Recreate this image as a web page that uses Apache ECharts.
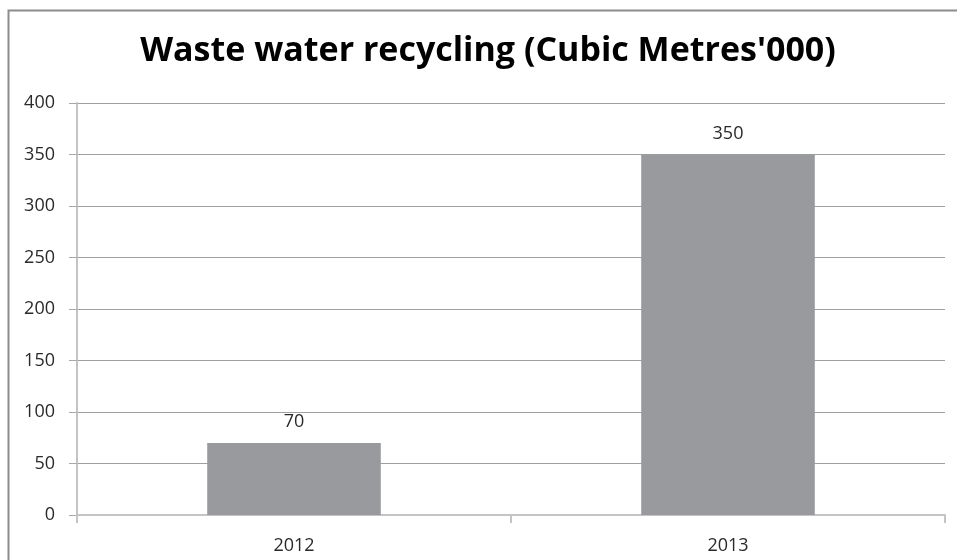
<!DOCTYPE html>
<html><head><meta charset="utf-8">
<script src="https://cdn.jsdelivr.net/npm/echarts@6/dist/echarts.min.js"></script>
<style>html,body{margin:0;padding:0;background:#fff}#c{width:957px;height:560px}</style>
</head><body><div id="c"></div>
<script>
const categories = ['2012', '2013'];
const values = [70, 350];
const titleText = "Waste water recycling (Cubic Metres'000)";
const yTicks = { min: 0, max: 400, interval: 50 };

const chart = echarts.init(document.getElementById('c'), null, { renderer: 'canvas' });
chart.setOption({
  animation: false,
  backgroundColor: '#ffffff',
  graphic: [{
    type: 'rect', shape: { x: 8.5, y: 10.5, width: 1000, height: 600 },
    style: { fill: 'none', stroke: '#8c8c8c', lineWidth: 2 }, z: 0
  }],
  title: {
    text: titleText, left: 483, top: 29, textAlign: 'center',
    textStyle: { fontFamily: 'Open Sans', fontWeight: 'bold', fontSize: 34, color: '#000' }
  },
  grid: { left: 77, right: 12, top: 103, bottom: 45, containLabel: false },
  xAxis: {
    type: 'category', data: categories,
    axisLine: { lineStyle: { color: '#c4c4c4', width: 2 } },
    axisTick: { show: true, length: 8, lineStyle: { color: '#c4c4c4', width: 2 } },
    axisLabel: { fontFamily: 'Open Sans', fontSize: 18, color: '#2a2a2a', margin: 22 }
  },
  yAxis: {
    type: 'value', min: yTicks.min, max: yTicks.max, interval: yTicks.interval,
    axisLine: { show: true, lineStyle: { color: '#c4c4c4', width: 2 } },
    axisTick: { show: true, length: 8, lineStyle: { color: '#a8a8a8', width: 1 } },
    splitLine: { lineStyle: { color: '#a0a0a0', width: 1 } },
    axisLabel: { fontFamily: 'Open Sans', fontSize: 18, color: '#2a2a2a', margin: 22 }
  },
  series: [{
    type: 'bar', data: values, barWidth: '40%',
    itemStyle: { color: '#999a9e' },
    label: { show: true, position: 'top', distance: 12, fontFamily: 'Open Sans', fontSize: 18, color: '#2a2a2a' }
  }]
});
</script></body></html>
